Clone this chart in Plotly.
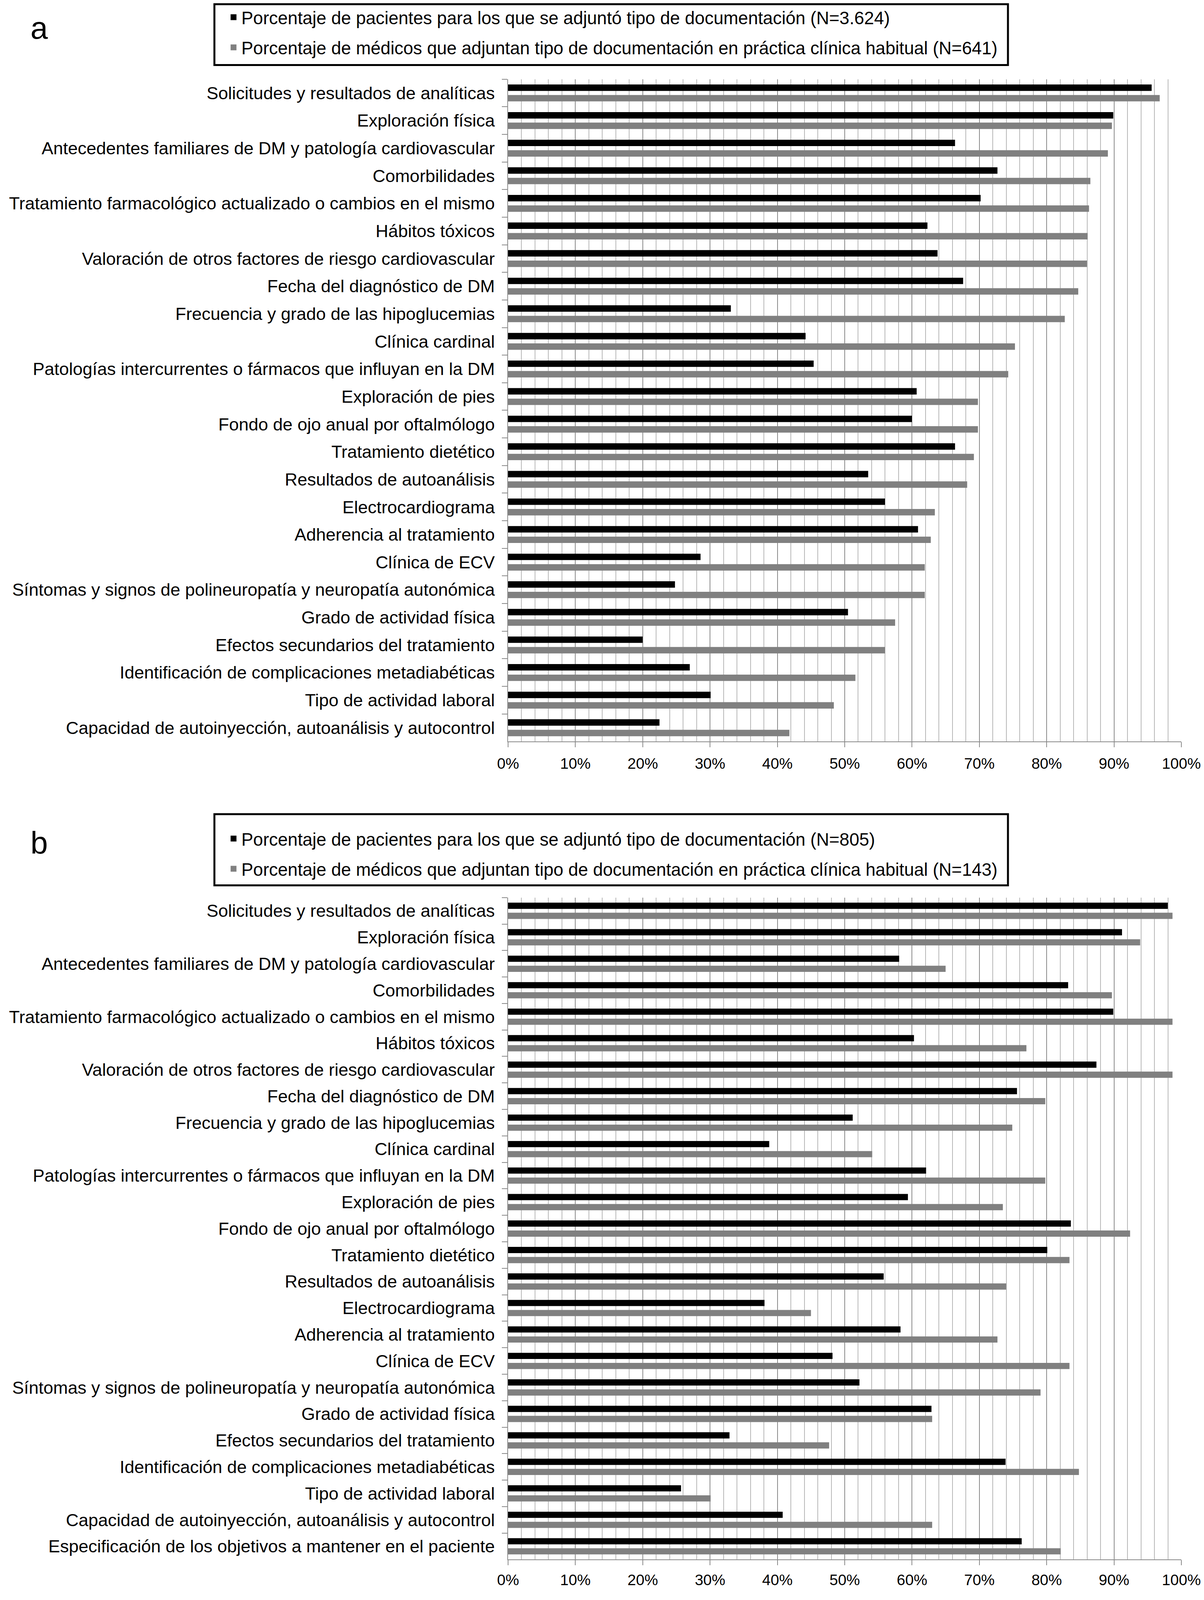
import plotly.graph_objects as go

# ---------------- data ----------------
categories_a = [
    "Solicitudes y resultados de analíticas",
    "Exploración física",
    "Antecedentes familiares de DM y patología cardiovascular",
    "Comorbilidades",
    "Tratamiento farmacológico actualizado o cambios en el mismo",
    "Hábitos tóxicos",
    "Valoración de otros factores de riesgo cardiovascular",
    "Fecha del diagnóstico de DM",
    "Frecuencia y grado de las hipoglucemias",
    "Clínica cardinal",
    "Patologías intercurrentes o fármacos que influyan en la DM",
    "Exploración de pies",
    "Fondo de ojo anual por oftalmólogo",
    "Tratamiento dietético",
    "Resultados de autoanálisis",
    "Electrocardiograma",
    "Adherencia al tratamiento",
    "Clínica de ECV",
    "Síntomas y signos de polineuropatía y neuropatía autonómica",
    "Grado de actividad física",
    "Efectos secundarios del tratamiento",
    "Identificación de complicaciones metadiabéticas",
    "Tipo de actividad laboral",
    "Capacidad de autoinyección, autoanálisis y autocontrol",
]
pacientes_a = [95.5, 89.8, 66.3, 72.6, 70.1, 62.2, 63.7, 67.5, 33.0, 44.1, 45.3, 60.6,
               59.9, 66.3, 53.4, 55.9, 60.8, 28.5, 24.7, 50.4, 19.9, 26.9, 30.0, 22.4]
medicos_a = [96.7, 89.6, 89.0, 86.4, 86.2, 86.0, 85.9, 84.6, 82.6, 75.2, 74.2, 69.7,
             69.7, 69.1, 68.1, 63.3, 62.7, 61.8, 61.8, 57.4, 55.9, 51.5, 48.3, 41.7]

categories_b = categories_a + ["Especificación de los objetivos a mantener en el paciente"]
pacientes_b = [97.9, 91.1, 58.0, 83.1, 89.8, 60.2, 87.3, 75.5, 51.1, 38.7, 62.0, 59.3,
               83.5, 80.0, 55.7, 38.0, 58.2, 48.1, 52.1, 62.8, 32.8, 73.8, 25.6, 40.7, 76.2]
medicos_b = [98.6, 93.8, 64.9, 89.6, 98.6, 76.9, 98.6, 79.7, 74.8, 54.0, 79.7, 73.4,
             92.3, 83.3, 73.9, 44.9, 72.6, 83.3, 79.0, 62.9, 47.6, 84.7, 30.0, 62.9, 82.0]

names_a = ["Porcentaje de pacientes para los que se adjuntó tipo de documentación (N=3.624)",
           "Porcentaje de médicos que adjuntan tipo de documentación en práctica clínica habitual (N=641)"]
names_b = ["Porcentaje de pacientes para los que se adjuntó tipo de documentación (N=805)",
           "Porcentaje de médicos que adjuntan tipo de documentación en práctica clínica habitual (N=143)"]

x_ticks = [0, 10, 20, 30, 40, 50, 60, 70, 80, 90, 100]
x_tick_labels = ["0%", "10%", "20%", "30%", "40%", "50%", "60%", "70%", "80%", "90%", "100%"]
panel_labels = ["a", "b"]

# ---------------- layout helpers ----------------
# Positions are given in reference-image pixels (3083 x 4147).  The page body
# adds an 8 px margin and the visible viewport is shorter than the reference,
# so vertical positions are scaled to fit the visible area.
PAGE_MARGIN = 8
REF_W, REF_H = 3083, 4147
VIEW_H = 4060
K = VIEW_H / REF_H
W = REF_W - 2 * PAGE_MARGIN
H = VIEW_H - PAGE_MARGIN
FONT = "Liberation Sans, Arial, sans-serif"
BLACK = "#000000"
GREY = "#808080"


def px_x(v):
    return (v - PAGE_MARGIN) / W


def px_y(v):
    return 1 - (v * K - PAGE_MARGIN) / H


fig = go.Figure()

for cats, pac, med, names, xa, ya, lg in [
    (categories_a, pacientes_a, medicos_a, names_a, "x", "y", "legend"),
    (categories_b, pacientes_b, medicos_b, names_b, "x2", "y2", "legend2"),
]:
    fig.add_trace(go.Bar(
        y=cats, x=pac, orientation="h", name=names[0],
        marker=dict(color=BLACK, line=dict(color=BLACK, width=3)),
        xaxis=xa, yaxis=ya, legend=lg, legendgroup=lg + "p",
    ))
    fig.add_trace(go.Bar(
        y=cats, x=med, orientation="h", name=names[1],
        marker=dict(color=GREY, line=dict(color=GREY, width=3)),
        xaxis=xa, yaxis=ya, legend=lg, legendgroup=lg + "m",
    ))

x_dom = [px_x(1301), px_x(3025)]

xaxis_common = dict(
    range=[0, 100], domain=x_dom, tickvals=x_ticks, ticktext=x_tick_labels,
    showgrid=True, gridcolor="#8a8a8a", gridwidth=2,
    minor=dict(dtick=2, tick0=0, showgrid=True, gridcolor="#b8b8b8", gridwidth=2),
    showline=True, linecolor="#8a8a8a", linewidth=2,
    ticks="outside", ticklen=13, tickwidth=2, tickcolor="#8a8a8a",
    tickfont=dict(family=FONT, size=39, color=BLACK),
    ticklabeloverflow="allow",
    zeroline=False, automargin=False, fixedrange=True,
)
yaxis_common = dict(
    autorange="reversed", type="category",
    showline=True, linecolor="#8a8a8a", linewidth=2,
    ticks="outside", ticklen=14, tickwidth=2, tickcolor="#8a8a8a",
    tickson="boundaries", showgrid=False,
    tickfont=dict(family=FONT, size=45, color=BLACK),
    ticklabelstandoff=23, automargin=False, fixedrange=True,
)

legend_common = dict(
    xanchor="left", yanchor="top", x=px_x(578),
    bgcolor="rgba(0,0,0,0)", borderwidth=0,
    font=dict(family=FONT, size=45.5, color=BLACK),
    tracegroupgap=15, traceorder="grouped",
)

fig.update_layout(
    width=W, height=H,
    margin=dict(l=0, r=0, t=0, b=0),
    paper_bgcolor="white", plot_bgcolor="white",
    barmode="group", bargap=0.24, bargroupgap=0.5,
    showlegend=True,
    xaxis=dict(anchor="y", ticklabelstandoff=8, **xaxis_common),
    yaxis=dict(anchor="x", domain=[px_y(1939), px_y(207)], **yaxis_common),
    xaxis2=dict(anchor="y2", ticklabelstandoff=4, **xaxis_common),
    yaxis2=dict(anchor="x2", domain=[px_y(4078), px_y(2347)], **yaxis_common),
    legend=dict(y=px_y(8), **legend_common),
    legend2=dict(y=px_y(2156), **legend_common),
    shapes=[
        dict(type="rect", xref="paper", yref="paper",
             x0=px_x(549), x1=px_x(2581), y0=px_y(170), y1=px_y(11),
             line=dict(color=BLACK, width=5), fillcolor="rgba(0,0,0,0)"),
        dict(type="rect", xref="paper", yref="paper",
             x0=px_x(549), x1=px_x(2581), y0=px_y(2315), y1=px_y(2129),
             line=dict(color=BLACK, width=5), fillcolor="rgba(0,0,0,0)"),
    ],
    annotations=[
        dict(text=panel_labels[0], xref="paper", yref="paper", x=px_x(100), y=px_y(73),
             xanchor="center", yanchor="middle", showarrow=False,
             font=dict(family=FONT, size=80, color=BLACK)),
        dict(text=panel_labels[1], xref="paper", yref="paper", x=px_x(100), y=px_y(2204),
             xanchor="center", yanchor="middle", showarrow=False,
             font=dict(family=FONT, size=80, color=BLACK)),
    ],
)

fig.write_html("out.html")
